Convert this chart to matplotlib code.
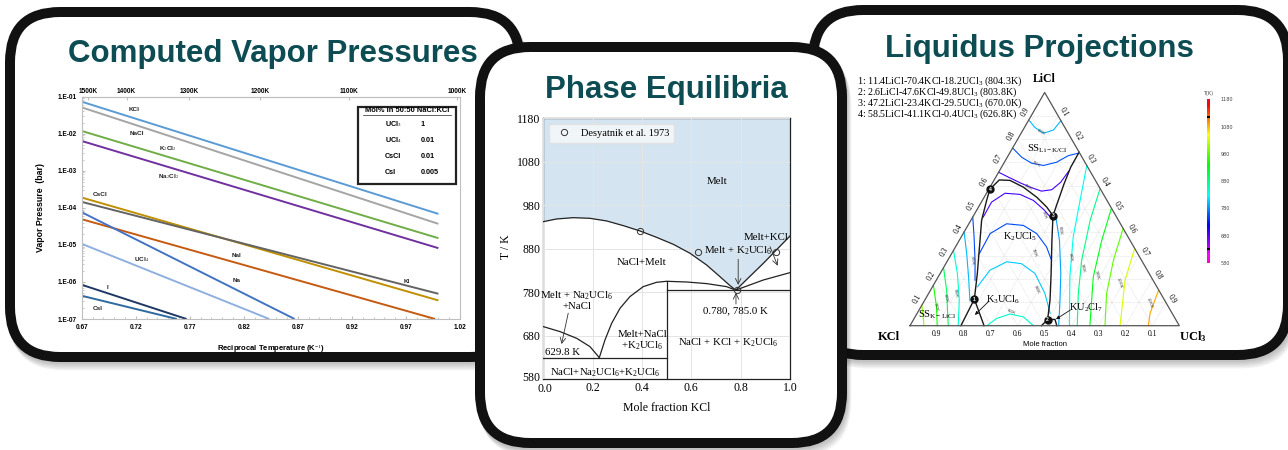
import numpy as np
import matplotlib
matplotlib.use("Agg")
import matplotlib.pyplot as plt
from matplotlib.patches import FancyBboxPatch, Rectangle
from matplotlib.ticker import MultipleLocator, LogLocator, NullFormatter
from matplotlib.transforms import ScaledTranslation
from matplotlib import colors as mcolors
from matplotlib import cm

plt.rcParams["mathtext.fontset"] = "custom"
plt.rcParams["mathtext.rm"] = "Liberation Serif"
plt.rcParams["mathtext.it"] = "Liberation Serif:italic"
plt.rcParams["mathtext.bf"] = "Liberation Serif:bold"

W, H = 1288, 450
TEAL = "#0c4c52"
SANS = "Liberation Sans"
SERIF = "Liberation Serif"

# -----------------------
# Panel 1 data: vapor pressures vs 1/T
# -----------------------
vp_names = ["KCl", "NaCl", "K$_2$Cl$_2$", "Na$_2$Cl$_2$", "CsCl", "KI", "NaI", "Na", "UCl$_4$", "I", "CsI"]
vp_colors = ["#5b9bd5", "#a5a5a5", "#70ad47", "#7030a0", "#bf9000", "#636363",
             "#c55a11", "#4472c4", "#8fb0e0", "#203864", "#2e6a9e"]
vp_x0 = [0.67, 0.67, 0.67, 0.67, 0.67, 0.67, 0.67, 0.67, 0.67, 0.67, 0.67]
vp_x1 = [1.0, 1.0, 1.0, 1.0, 1.0, 1.0, 0.997, 0.867, 0.8436, 0.767, 0.758]
vp_p0 = [7.33e-2, 5.15e-2, 1.19e-2, 6.38e-3, 1.90e-4, 1.45e-4, 4.94e-5, 7.62e-5, 1.07e-5, 8.39e-7, 4.24e-7]
vp_p1 = [6.87e-5, 3.70e-5, 1.52e-5, 8.17e-6, 3.17e-7, 4.80e-7, 1.0e-7, 1.0e-7, 1.0e-7, 1.0e-7, 1.0e-7]
vp_lab_x = [0.7184, 0.7209, 0.750, 0.750, 0.687, 0.9707, 0.813, 0.813, 0.7255, 0.6935, 0.685]
vp_lab_p = [4.56e-2, 1.03e-2, 3.89e-3, 6.98e-4, 2.24e-4, 1.03e-6, 5.18e-6, 1.07e-6, 3.98e-6, 7.24e-7, 1.95e-7]
vp_xticks = [0.67, 0.72, 0.77, 0.82, 0.87, 0.92, 0.97, 1.02]
vp_yticks = [1e-7, 1e-6, 1e-5, 1e-4, 1e-3, 1e-2, 1e-1]
vp_ylabels = ["1.E-07", "1.E-06", "1.E-05", "1.E-04", "1.E-03", "1.E-02", "1.E-01"]
top_pos = [0.676, 0.7116, 0.7696, 0.835, 0.9176, 1.017]
top_labels = ["1500K", "1400K", "1300K", "1200K", "1100K", "1000K"]
mol_names = ["UCl$_3$", "UCl$_4$", "CsCl", "CsI"]
mol_values = ["1", "0.01", "0.01", "0.005"]

# -----------------------
# Panel 2 data: NaCl-KCl-UCl3 section
# -----------------------
liq_x = [0.0, 0.054, 0.122, 0.189, 0.257, 0.324, 0.392, 0.459, 0.527, 0.595, 0.662, 0.716, 0.757, 0.780, 0.892, 1.0]
liq_T = [942.4, 948.6, 951.6, 950.1, 944.0, 933.3, 921.0, 906.4, 890.3, 869.6, 842.8, 816.0, 795.3, 785.0, 846.7, 909.5]
k2_x = [0.227, 0.25, 0.277, 0.311, 0.351, 0.405, 0.459, 0.5, 0.581, 0.662, 0.743, 0.780, 0.892, 1.0]
k2_T = [629.8, 670.4, 708.7, 743.2, 770.0, 793.0, 803.0, 805.3, 803.7, 800.0, 793.0, 785.0, 808.3, 825.2]
na_x = [0.0, 0.068, 0.135, 0.189, 0.227]
na_T = [701.1, 689.6, 674.3, 655.2, 629.8]
eut_low_T = 629.8
eut_high_T = 785.0
compound_x = 0.5
exp_x = [0.392, 0.628, 0.786, 0.943]
exp_T = [922.0, 873.5, 785.0, 873.5]

# -----------------------
# Panel 3 data: LiCl-KCl-UCl3 liquidus (mol% LiCl, mol% UCl3)
# -----------------------
inv_licl = [11.4, 2.6, 47.2, 58.5]
inv_kcl = [70.4, 47.6, 23.4, 41.1]
inv_ucl3 = [18.2, 49.8, 29.5, 0.4]
inv_T = [804.3, 803.8, 670.0, 626.8]

bnd_licl = [[58.5, 62.5, 62.3, 59.4, 55.1, 50.9, 47.2],
            [47.2, 53.7, 60.8, 67.9, 74.4],
            [47.2, 36.6, 22.4, 11.0, 2.6],
            [58.5, 53.7, 45.2, 33.8, 22.4, 11.4],
            [11.4, 0.0], [11.4, 0.0], [2.6, 0.0], [2.6, 2.7, 0.0]]
bnd_ucl3 = [[0.4, 1.9, 6.0, 12.4, 19.5, 25.3, 29.5],
            [29.5, 28.2, 26.8, 25.7, 25.6],
            [29.5, 34.4, 41.2, 46.5, 49.8],
            [0.4, 1.6, 4.0, 8.9, 13.8, 18.2],
            [18.2, 18.9], [18.2, 27.5], [49.8, 48.8], [49.8, 52.5, 54.5]]

iso_T = [800, 755, 690, 690, 750, 805, 850, 750, 800, 850, 900, 950, 1000,
         790, 840, 880, 930, 980, 1030, 1090]
iso_licl = [[88.2, 85.0, 82.5, 83.9, 87.9],
            [76.2, 72.2, 69.7, 68.7, 70.1, 72.9, 74.0],
            [65.8, 63.7, 61.3, 59.4, 57.7, 58.3, 61.5, 66.2],
            [46.6, 53.0, 56.8, 56.3, 53.7, 49.7, 45.4],
            [30.9, 39.5, 43.7, 43.0, 39.5, 33.8, 28.1],
            [16.7, 23.8, 27.4, 26.6, 22.4, 13.8, 5.3],
            [0.0, 3.1, 5.0, 3.8, 0.0],
            [46.6, 38.0, 28.1, 19.5],
            [40.2, 30.9, 20.9, 10.7],
            [32.3, 22.4, 11.0, 0.0],
            [24.9, 15.2, 0.0],
            [17.4, 8.1, 0.0],
            [8.8, 0.0],
            [45.9, 36.6, 22.4, 11.0, 0.0],
            [68.7, 53.7, 38.0, 20.9, 0.0],
            [58.7, 45.2, 28.1, 13.8, 0.0],
            [50.1, 36.6, 20.9, 0.0],
            [41.6, 28.1, 13.8, 0.0],
            [33.0, 19.5, 0.0],
            [15.2, 5.3, 0.0]]
iso_ucl3 = [[0.0, 3.9, 8.3, 11.3, 12.1],
            [0.0, 5.4, 10.3, 15.2, 19.4, 22.3, 25.6],
            [0.0, 4.7, 10.2, 14.9, 20.0, 23.5, 25.2, 25.8],
            [3.9, 3.8, 6.9, 12.7, 19.0, 24.9, 30.3],
            [10.3, 10.0, 14.0, 20.6, 27.3, 33.8, 38.5],
            [16.7, 17.8, 22.2, 28.1, 35.2, 43.2, 49.4],
            [28.5, 30.6, 34.6, 40.2, 45.8],
            [0.0, 4.8, 10.1, 14.4],
            [0.0, 5.6, 11.3, 16.9],
            [0.0, 6.4, 12.8, 17.9],
            [0.0, 6.0, 14.2],
            [0.0, 5.8, 10.1],
            [0.0, 5.2],
            [31.3, 37.2, 44.8, 50.2, 55.2],
            [31.3, 36.3, 41.6, 48.9, 59.2],
            [41.2, 44.3, 49.7, 55.6, 62.1],
            [49.7, 52.9, 57.6, 66.8],
            [58.3, 61.5, 66.1, 72.4],
            [66.9, 70.1, 78.0],
            [84.7, 86.5, 88.5]]
iso_labels = ["800K", "760K", "730K", "730K", "780K", "830K", "850K", "800K", "880K",
              "930K", "980K", "1030K", "1080K", "680K", "830K", "880K", "930K"]
iso_lab_x = [0.489, 0.468, 0.439, 0.4975, 0.4616, 0.470, 0.377, 0.557, 0.598,
             0.640, 0.696, 0.777, 0.891, 0.229, 0.171, 0.134, 0.0965]
iso_lab_y = [0.720, 0.599, 0.514, 0.410, 0.271, 0.132, 0.0495, 0.355, 0.256,
             0.213, 0.188, 0.160, 0.083, 0.244, 0.120, 0.101, 0.0705]
iso_lab_rot = [-28, -28, -30, -70, -70, -65, -25, -85, -80, -78, -75, -72, -70, -85, -80, -78, -75]
cbar_ticks = [580, 680, 780, 880, 980, 1080, 1180]


def tern(licl, ucl3):
    c = np.asarray(licl, dtype=float) / 100.0
    u = np.asarray(ucl3, dtype=float) / 100.0
    return u + c / 2.0, c * np.sqrt(3) / 2.0


# -----------------------
# Figure and panels
# -----------------------
fig = plt.figure(figsize=(W / 100, H / 100), dpi=100)
bg = fig.add_axes([0, 0, 1, 1], zorder=0)
bg.set_xlim(0, W)
bg.set_ylim(H, 0)
bg.axis("off")


def px_axes(x0, y0, x1, y1, z=2):
    return fig.add_axes([x0 / W, 1 - y1 / H, (x1 - x0) / W, (y1 - y0) / H], zorder=z)


def panel(x0, y0, x1, y1, z, r=55, bw=10):
    for k in range(5):
        off = 2 + 1.6 * k
        bg.add_patch(FancyBboxPatch((x0 + off * 0.5, y0 + off), x1 - x0, y1 - y0,
                                    boxstyle=f"round,pad=0,rounding_size={r}",
                                    fc="black", ec="none", alpha=0.05, zorder=z))
    bg.add_patch(FancyBboxPatch((x0 + bw / 2, y0 + bw / 2), x1 - x0 - bw, y1 - y0 - bw,
                                boxstyle=f"round,pad=0,rounding_size={r - bw / 2}",
                                fc="white", ec="#111111", lw=bw * 0.72, zorder=z))


panel(808, 5, 1293, 360, z=1)
panel(5, 7, 525, 362, z=2)
panel(475, 42, 847, 448, z=3)

title_kw = dict(ha="center", va="baseline", fontsize=22.5, fontweight="bold", color=TEAL,
                family=SANS, zorder=10)
bg.text(273, 62, "Computed Vapor Pressures", **title_kw)
bg.text(666, 98, "Phase Equilibria", **title_kw)
bg.text(1039, 57, "Liquidus Projections", **title_kw)

# -----------------------
# Panel 1: vapor pressure chart
# -----------------------
ax1 = px_axes(81.7, 96.7, 460, 319)
for i in range(len(vp_names)):
    ax1.plot([vp_x0[i], vp_x1[i]], [vp_p0[i], vp_p1[i]], color=vp_colors[i], lw=1.4,
             solid_capstyle="butt")
    ax1.text(vp_lab_x[i], vp_lab_p[i], vp_names[i], fontsize=4.6, fontweight="bold",
             ha="center", va="center", color="#222222", family=SANS)
ax1.set_yscale("log")
ax1.set_xlim(0.67, 1.02)
ax1.set_ylim(1e-7, 1e-1)
ax1.set_xticks(vp_xticks)
ax1.set_xticklabels([f"{v:.2f}" for v in vp_xticks])
ax1.set_yticks(vp_yticks)
ax1.set_yticklabels(vp_ylabels)
ax1.yaxis.set_minor_locator(LogLocator(base=10, subs=np.arange(2, 10)))
ax1.yaxis.set_minor_formatter(NullFormatter())
ax1.xaxis.set_minor_locator(MultipleLocator(0.01))
ax1.tick_params(which="both", direction="in", color="#bfbfbf", labelsize=4.7, pad=3.5)
ax1.tick_params(which="major", length=2.5)
ax1.tick_params(which="minor", length=1.5)
for lab in ax1.get_xticklabels() + ax1.get_yticklabels():
    lab.set_fontweight("bold")
    lab.set_family(SANS)
for s in ax1.spines.values():
    s.set_color("#bfbfbf")
    s.set_linewidth(0.8)
sec = ax1.secondary_xaxis("top")
sec.set_xticks(top_pos, labels=top_labels)
sec.tick_params(length=2, direction="in", color="#bfbfbf", labelsize=4.7, pad=1)
for lab in sec.get_xticklabels():
    lab.set_fontweight("bold")
    lab.set_family(SANS)
sec.spines["top"].set_color("#bfbfbf")
ax1.set_xlabel("Reciprocal Temperature (K$^{-1}$)", fontsize=5.5, fontweight="bold", family=SANS)
ax1.set_ylabel("Vapor Pressure  (bar)", fontsize=6.3, fontweight="bold", family=SANS)
ax1.xaxis.set_label_coords(0.5, -0.102)
ax1.yaxis.set_label_coords(-0.097, 0.5)


def a1x(px):
    return (px - 81.7) / 378.3


def a1y(py):
    return (319 - py) / 222.3


ax1.add_patch(Rectangle((a1x(358), a1y(184)), a1x(456) - a1x(358), a1y(107) - a1y(184),
                        transform=ax1.transAxes, fc="white", ec="#222222", lw=1.6, zorder=5))
ax1.text(a1x(407), a1y(110.7), "Mol% in 50:50 NaCl:KCl", transform=ax1.transAxes,
         fontsize=5.4, fontweight="bold", family=SANS, ha="center", va="center", zorder=6)
ax1.plot([a1x(363), a1x(451)], [a1y(115), a1y(115)], transform=ax1.transAxes,
         color="#222222", lw=0.5, zorder=6)
for i, py in enumerate([124, 140.5, 156.5, 172.5]):
    ax1.text(a1x(385), a1y(py), mol_names[i], transform=ax1.transAxes, fontsize=5.2,
             fontweight="bold", family=SANS, ha="left", va="center", zorder=6)
    ax1.text(a1x(420.5), a1y(py), mol_values[i], transform=ax1.transAxes, fontsize=5.2,
             fontweight="bold", family=SANS, ha="left", va="center", zorder=6)

# -----------------------
# Panel 2: phase diagram
# -----------------------
ax2 = px_axes(543.3, 118.3, 790, 379.3)
ax2.fill_between(liq_x, liq_T, 1180, color="#d4e4f0", lw=0, zorder=0.5)
ax2.set_axisbelow(False)
ax2.grid(True, color="#e4e4e4", lw=0.7)
line_kw = dict(color="#222222", lw=0.9, zorder=3)
ax2.plot(liq_x, liq_T, **line_kw)
ax2.plot(k2_x, k2_T, **line_kw)
ax2.plot(na_x, na_T, **line_kw)
ax2.plot([0.0, compound_x], [eut_low_T, eut_low_T], **line_kw)
ax2.plot([compound_x, 1.0], [eut_high_T, eut_high_T], **line_kw)
ax2.plot([compound_x, compound_x], [580, k2_T[k2_x.index(compound_x)]], **line_kw)
ax2.plot(exp_x, exp_T, "o", mfc="none", mec="#333333", ms=4.5, mew=0.7, zorder=4,
         label="Desyatnik et al. 1973")
ax2.set_xlim(0, 1)
ax2.set_ylim(580, 1180)
ax2.set_xticks(np.arange(0, 1.01, 0.2))
ax2.set_xticklabels([f"{v:.1f}" for v in np.arange(0, 1.01, 0.2)])
ax2.set_yticks(np.arange(580, 1181, 100))
ax2.tick_params(length=0, labelsize=8.5, pad=2)
for lab in ax2.get_xticklabels() + ax2.get_yticklabels():
    lab.set_family(SERIF)
ylabs = ax2.get_yticklabels()
ylabs[0].set_transform(ylabs[0].get_transform() + ScaledTranslation(0, 3 / 100, fig.dpi_scale_trans))
xlabs = ax2.get_xticklabels()
xlabs[0].set_transform(xlabs[0].get_transform() + ScaledTranslation(2 / 100, -1 / 100, fig.dpi_scale_trans))
for s in ax2.spines.values():
    s.set_color("#222222")
    s.set_linewidth(0.9)
ax2.set_xlabel("Mole fraction KCl", fontsize=8.5, family=SERIF)
ax2.set_ylabel("T / K", fontsize=8.5, family=SERIF)
ax2.xaxis.set_label_coords(0.5, -0.086)
ax2.yaxis.set_label_coords(-0.128, 0.508)
leg = ax2.legend(loc="upper left", prop={"family": SERIF, "size": 7.5}, frameon=True,
                 facecolor="#f4f7fa", edgecolor="#e0e0e0", framealpha=0.9,
                 borderpad=0.5, handletextpad=0.6, fancybox=True)

t_kw = dict(fontsize=7.8, family=SERIF, ha="center", va="center", zorder=5)
arr = dict(arrowstyle="->", color="#333333", lw=0.6, shrinkA=0, shrinkB=0)
ax2.text(0.703, 1034, "Melt", **t_kw)
ax2.text(0.40, 849, "NaCl+Melt", **t_kw)
ax2.text(0.135, 762, "Melt + Na$_2$UCl$_6$\n+NaCl", linespacing=1.0, **t_kw)
ax2.annotate("", xy=(0.074, 661), xytext=(0.101, 732), arrowprops=arr)
ax2.text(0.007, 642, "629.8 K", fontsize=7.8, family=SERIF, ha="left", va="center")
ax2.text(0.25, 594, "NaCl+Na$_2$UCl$_6$+K$_2$UCl$_6$", **t_kw)
ax2.text(0.401, 668, "Melt+NaCl\n+K$_2$UCl$_6$", linespacing=1.05, **t_kw)
ax2.text(0.905, 906, "Melt+KCl", **t_kw)
ax2.annotate("", xy=(0.95, 841), xytext=(0.919, 885), arrowprops=arr)
ax2.text(0.651, 876, "Melt + K$_2$UCl$_6$", fontsize=7.8, family=SERIF, ha="left", va="center")
ax2.annotate("", xy=(0.79, 797), xytext=(0.79, 856), arrowprops=arr)
ax2.text(0.78, 738, "0.780, 785.0 K", **t_kw)
ax2.annotate("", xy=(0.781, 779), xytext=(0.781, 753), arrowprops=arr)
ax2.text(0.75, 663, "NaCl + KCl + K$_2$UCl$_6$", **t_kw)

# -----------------------
# Panel 3: ternary liquidus projection
# -----------------------
S = 269.3
OX, OY = 910.0, 325.7
ax3 = px_axes(850, 62, 1280, 352)
ax3.set_xlim((850 - OX) / S, (1280 - OX) / S)
ax3.set_ylim((OY - 352) / S, (OY - 62) / S)
ax3.axis("off")

cmap = plt.get_cmap("gist_rainbow_r")
norm = mcolors.Normalize(vmin=580, vmax=1180)

grid_kw = dict(color="#c8c8c8", lw=0.4, ls=(0, (1, 1.5)), zorder=1)
for v in np.arange(10, 100, 10):
    ax3.plot(*tern([v, v], [0, 100 - v]), **grid_kw)
    ax3.plot(*tern([0, 100 - v], [v, v]), **grid_kw)
    ax3.plot(*tern([0, 100 - v], [100 - v, 0]), **grid_kw)

for i in range(len(iso_T)):
    ax3.plot(*tern(iso_licl[i], iso_ucl3[i]), color=cmap(norm(iso_T[i])), lw=0.8, zorder=2)
for i in range(len(iso_labels)):
    ax3.text(iso_lab_x[i], iso_lab_y[i], iso_labels[i], fontsize=2.8, rotation=iso_lab_rot[i],
             ha="center", va="center", color="#444444", family=SANS, zorder=3)

for i in range(len(bnd_licl)):
    ax3.plot(*tern(bnd_licl[i], bnd_ucl3[i]), color="#1a1a1a", lw=1.0, zorder=4)

ax3.plot(*tern([0, 0, 100, 0], [0, 100, 0, 0]), color="#555555", lw=0.9, zorder=5)

ix, iy = tern(inv_licl, inv_ucl3)
ax3.plot(ix, iy, "o", ms=5, mfc="#111111", mec="#111111", zorder=6)
for i in range(len(inv_T)):
    ax3.text(ix[i], iy[i], str(i + 1), fontsize=3.5, color="white", fontweight="bold",
             ha="center", va="center", zorder=7, family=SANS)

for v in np.arange(0.1, 0.95, 0.1):
    lab = f"{v:.1f}"
    ax3.text(1 - v, -0.03, lab, fontsize=5.5, family=SERIF, ha="center", va="center")
    ax3.text(v / 2 - 0.022, v * np.sqrt(3) / 2 + 0.013, lab, fontsize=5.5, family=SERIF,
             ha="center", va="center", rotation=60)
    ax3.text((1 + v) / 2 + 0.022, (1 - v) * np.sqrt(3) / 2 + 0.013, lab, fontsize=5.5,
             family=SERIF, ha="center", va="center", rotation=-60)

ax3.text(0.5, 0.916, "LiCl", fontsize=8.5, fontweight="bold", family=SERIF, ha="center", va="center")
ax3.text(-0.078, -0.042, "KCl", fontsize=9, fontweight="bold", family=SERIF, ha="center", va="center")
ax3.text(1.051, -0.042, "UCl$_\\mathbf{3}$", fontsize=9, fontweight="bold", family=SERIF,
         ha="center", va="center")
ax3.text(0.5, -0.068, "Mole fraction", fontsize=5.5, family=SANS, ha="center", va="center")

reg_kw = dict(fontsize=7.5, family=SERIF, ha="center", va="center", zorder=8)
ax3.text(0.509, 0.656, "SS$_{\\rm Li-K/Cl}$", **reg_kw)
ax3.text(0.408, 0.329, "K$_2$UCl$_5$", **reg_kw)
ax3.text(0.345, 0.095, "K$_3$UCl$_6$", **reg_kw)
ax3.text(0.10, 0.040, "SS$_{\\rm K-LiCl}$", **reg_kw)
ax3.text(0.655, 0.066, "KU$_2$Cl$_7$", **reg_kw)
arr3 = dict(arrowstyle="-|>", color="#111111", lw=0.6, mutation_scale=5, shrinkA=0, shrinkB=0)
ax3.annotate("", xy=(0.241, 0.040), xytext=(0.292, 0.090), arrowprops=arr3)
ax3.annotate("", xy=(0.542, 0.024), xytext=(0.595, 0.058), arrowprops=arr3)

for i in range(len(inv_T)):
    bg.text(857, 84 + 11 * i,
            f"{i + 1}: {inv_licl[i]:.1f}LiCl-{inv_kcl[i]:.1f}KCl-{inv_ucl3[i]:.1f}UCl$_3$ ({inv_T[i]:.1f}K)",
            fontsize=7.2, family=SERIF, ha="left", va="baseline", zorder=10)

cax = px_axes(1206.5, 99.5, 1209.5, 263, z=3)
cb = fig.colorbar(cm.ScalarMappable(norm=norm, cmap=cmap), cax=cax, ticks=cbar_ticks)
cb.outline.set_visible(False)
cax.tick_params(length=0, labelsize=3.5, labelcolor="#444444", pad=8)
cax.axhline(1114, color="black", lw=1.5)
cax.axhline(633, color="black", lw=1.5)
cax.set_title("T(K)", fontsize=3.5, color="#444444", pad=3)

fig.savefig("out.png", dpi=100)
